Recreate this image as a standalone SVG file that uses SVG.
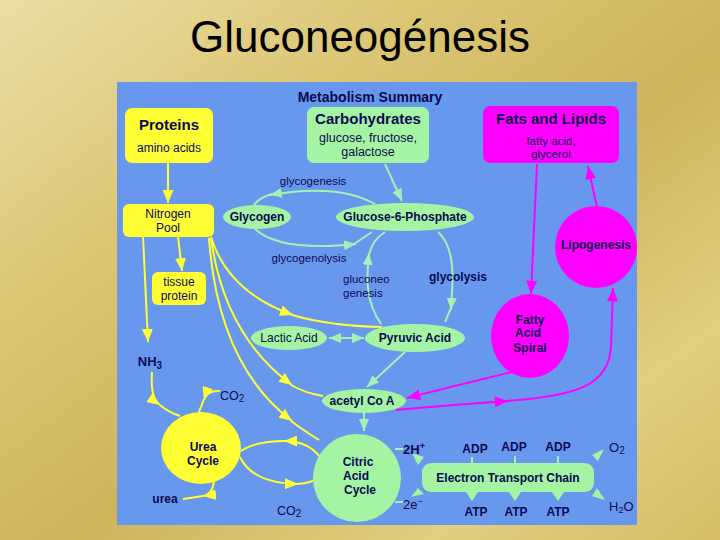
<svg xmlns="http://www.w3.org/2000/svg" width="720" height="540" viewBox="0 0 720 540">
<defs>
<linearGradient id="gold" x1="0" y1="0" x2="1" y2="1">
<stop offset="0" stop-color="#eadfa6"/>
<stop offset="0.3" stop-color="#dcc674"/>
<stop offset="0.55" stop-color="#cfb45c"/>
<stop offset="0.8" stop-color="#e2cf82"/>
<stop offset="1" stop-color="#d6bd66"/>
</linearGradient>
<marker id="ay" viewBox="0 0 12 10" refX="12" refY="5" markerWidth="13" markerHeight="11" markerUnits="userSpaceOnUse" orient="auto"><path d="M0,0 L12,5 L0,10 Z" fill="#ffff33"/></marker>
<marker id="ag" viewBox="0 0 12 10" refX="12" refY="5" markerWidth="12" markerHeight="10" markerUnits="userSpaceOnUse" orient="auto-start-reverse"><path d="M0,0 L12,5 L0,10 Z" fill="#a2f2b4"/></marker>
<marker id="am" viewBox="0 0 12 10" refX="12" refY="5" markerWidth="14" markerHeight="11" markerUnits="userSpaceOnUse" orient="auto"><path d="M0,0 L12,5 L0,10 Z" fill="#ff00ff"/></marker>
<style>
.t{font-family:"Liberation Sans",Arial,sans-serif;fill:#0a0a50;text-anchor:middle}
.b{font-weight:bold}
.n{font-size:12px}
.yl{fill:none;stroke:#ffff33;stroke-width:2}
.gl{fill:none;stroke:#a2f2b4;stroke-width:2}
.ml{fill:none;stroke:#ff00ff;stroke-width:2}
.yb{fill:#ffff33}
.gb{fill:#a4f4a4}
.mb{fill:#ff00ff}
</style>
</defs>
<rect x="0" y="0" width="720" height="540" fill="url(#gold)"/>
<text x="360" y="52" font-family="Liberation Sans,Arial,sans-serif" font-size="44" text-anchor="middle" fill="#000">Gluconeogénesis</text>
<rect x="117" y="82" width="520" height="443" fill="#6898ee"/>
<text class="t b" x="370" y="102" font-size="14">Metabolism Summary</text>

<g id="connectors">
<!-- yellow -->
<path class="yl" d="M168,163 L168,203" marker-end="url(#ay)"/>
<path class="yl" d="M178,236 L182,271" marker-end="url(#ay)"/>
<path class="yl" d="M143,236 L148,342" marker-end="url(#ay)"/>
<path class="yl" d="M152,372 Q150,398 160,405" marker-end="url(#ay)"/>
<path class="yl" d="M160,405 Q168,412 180,416"/>
<path class="yl" d="M220,391 Q207,390 204,400" marker-end="url(#ay)"/>
<path class="yl" d="M204,399 L199,412"/>
<path class="yl" d="M214,482 Q212,495 203,496" marker-end="url(#ay)"/>
<path class="yl" d="M203,496 L183,499"/>
<path class="yl" d="M320,457 Q308,441 284,441" marker-end="url(#ay)"/>
<path class="yl" d="M285,441 Q255,441 241,451"/>
<path class="yl" d="M240,457 Q252,483 298,484" marker-end="url(#ay)"/>
<path class="yl" d="M297,484 Q312,483 318,478"/>
<path class="yl" d="M211,237 Q228,292 293,315" marker-end="url(#ay)"/>
<path class="yl" d="M292,315 Q330,326 382,327"/>
<path class="yl" d="M211,238 Q224,335 292,385" marker-end="url(#ay)"/>
<path class="yl" d="M291,385 Q305,393 323,396"/>
<path class="yl" d="M209,238 Q218,365 292,421" marker-end="url(#ay)"/>
<path class="yl" d="M291,421 Q303,430 319,440"/>
<!-- green -->
<path class="gl" d="M385,164 L402,201" marker-end="url(#ag)"/>
<path class="gl" d="M375,204 Q338,183 270,195" marker-end="url(#ag)"/>
<path class="gl" d="M272,194 Q260,197 254,205"/>
<path class="gl" d="M255,229 Q280,252 356,244" marker-end="url(#ag)"/>
<path class="gl" d="M354,244 L372,232"/>
<path class="gl" d="M381,324 C366,302 366,280 369,253" marker-end="url(#ag)"/>
<path class="gl" d="M369,255 Q372,240 385,232"/>
<path class="gl" d="M438,232 C456,248 453,280 451,310" marker-end="url(#ag)"/>
<path class="gl" d="M451,308 L445,322"/>
<path class="gl" d="M329,338 L364,338" marker-start="url(#ag)" marker-end="url(#ag)"/>
<path class="gl" d="M405,352 L367,387" marker-end="url(#ag)"/>
<path class="gl" d="M364,413 L364,431" marker-end="url(#ag)"/>
<path class="gl" d="M395,449 L403,449"/>
<path class="gl" d="M395,502 L403,502"/>
<path class="gl" d="M472,457 L472,463"/>
<path class="gl" d="M515,456 L515,463"/>
<path class="gl" d="M558,456 L558,463"/>
<polygon class="gb" points="412,453 424,457 418,465"/>
<polygon class="gb" points="411,497 418,488 424,494"/>
<polygon class="gb" points="466,492 478,492 472,501"/>
<polygon class="gb" points="509,492 521,492 515,501"/>
<polygon class="gb" points="552,492 564,492 558,501"/>
<polygon class="gb" points="604,449 598,461 592,455"/>
<polygon class="gb" points="605,500 592,496 597,488"/>
<!-- magenta -->
<path class="ml" d="M537,164 L531,294" marker-end="url(#am)"/>
<path class="ml" d="M597,207 L588,166" marker-end="url(#am)"/>
<path class="ml" d="M512,372 Q462,384 407,398" marker-end="url(#am)"/>
<path class="ml" d="M396,410 Q450,405 508,401" marker-end="url(#am)"/>
<path class="ml" d="M506,401 C578,396 610,385 611,345 L613,288" marker-end="url(#am)"/>
</g>

<g id="proteins">
<rect class="yb" x="125" y="108" width="88" height="55" rx="7"/>
<text class="t b" x="169" y="130" font-size="15">Proteins</text>
<text class="t" x="169" y="152" font-size="12">amino acids</text>
</g>
<g id="carbohydrates">
<rect class="gb" x="307" y="107" width="122" height="56" rx="7"/>
<text class="t b" x="368" y="124" font-size="15">Carbohydrates</text>
<text class="t" x="368" y="142" font-size="12.5">glucose, fructose,</text>
<text class="t" x="368" y="156" font-size="12.5">galactose</text>
</g>
<g id="fats">
<rect class="mb" x="483" y="106" width="136" height="57" rx="7"/>
<text class="t b" x="551" y="124" font-size="15">Fats and Lipids</text>
<text class="t" x="551" y="145" font-size="11.5">fatty acid,</text>
<text class="t" x="551" y="158" font-size="11.5">glycerol</text>
</g>
<g id="nitrogen">
<rect class="yb" x="123" y="204" width="91" height="33" rx="6"/>
<text class="t" x="168" y="218" font-size="12">Nitrogen</text>
<text class="t" x="168" y="232" font-size="12">Pool</text>
</g>
<g id="tissue">
<rect class="yb" x="152" y="272" width="54" height="33" rx="6"/>
<text class="t" x="179" y="286" font-size="12">tissue</text>
<text class="t" x="179" y="300" font-size="12">protein</text>
</g>
<g id="nh3">
<text class="t b" x="150" y="366" font-size="13">NH<tspan font-size="10" dy="3">3</tspan></text>
</g>
<g id="glycogen">
<ellipse class="gb" cx="257" cy="217" rx="34" ry="12"/>
<text class="t b n" x="257" y="221">Glycogen</text>
</g>
<g id="g6p">
<ellipse class="gb" cx="405" cy="217" rx="69" ry="14"/>
<text class="t b n" x="405" y="221">Glucose-6-Phosphate</text>
</g>
<g id="labels">
<text class="t" x="313" y="185" font-size="11.5">glycogenesis</text>
<text class="t" x="309" y="262" font-size="11.5">glycogenolysis</text>
<text class="t" x="343" y="283" font-size="11.5" style="text-anchor:start">gluconeo</text>
<text class="t" x="343" y="297" font-size="11.5" style="text-anchor:start">genesis</text>
<text class="t b n" x="458" y="281">glycolysis</text>
</g>
<g id="lipogenesis">
<circle class="mb" cx="596" cy="247" r="41"/>
<text class="t b n" x="596" y="249">Lipogenesis</text>
</g>
<g id="fattyacid">
<ellipse class="mb" cx="530" cy="336" rx="39" ry="42"/>
<text class="t b n" x="530" y="324">Fatty</text>
<text class="t b n" x="528" y="337">Acid</text>
<text class="t b n" x="530" y="352">Spiral</text>
</g>
<g id="lactic">
<ellipse class="gb" cx="289" cy="338" rx="38" ry="12"/>
<text class="t n" x="289" y="342">Lactic Acid</text>
</g>
<g id="pyruvic">
<ellipse class="gb" cx="415" cy="338" rx="50" ry="14"/>
<text class="t b n" x="415" y="342">Pyruvic Acid</text>
</g>
<g id="acetyl">
<ellipse class="gb" cx="364" cy="401" rx="42" ry="12"/>
<text class="t b n" x="362" y="405">acetyl Co A</text>
</g>
<g id="co2a">
<text class="t" x="220" y="400" font-size="12.5" style="text-anchor:start">CO<tspan font-size="10" dy="2">2</tspan></text>
</g>
<g id="urea">
<ellipse class="yb" cx="201" cy="448" rx="40" ry="36"/>
<text class="t b n" x="203" y="451">Urea</text>
<text class="t b n" x="203" y="465">Cycle</text>
</g>
<g id="ureatext">
<text class="t b n" x="165" y="503">urea</text>
</g>
<g id="citric">
<circle class="gb" cx="357" cy="478" r="44"/>
<text class="t b n" x="358" y="466">Citric</text>
<text class="t b n" x="356" y="480">Acid</text>
<text class="t b n" x="360" y="494">Cycle</text>
</g>
<g id="co2b">
<text class="t" x="277" y="515" font-size="12.5" style="text-anchor:start">CO<tspan font-size="10" dy="2">2</tspan></text>
</g>
<g id="h2e">
<text class="t b" x="403" y="454" font-size="13" style="text-anchor:start">2H<tspan font-size="9" dy="-5">+</tspan></text>
<text class="t" x="403" y="509" font-size="13" style="text-anchor:start">2e<tspan font-size="9" dy="-5">−</tspan></text>
</g>
<g id="etc">
<rect class="gb" x="422" y="463" width="172" height="29" rx="9"/>
<text class="t b n" x="508" y="482">Electron Transport Chain</text>
</g>
<g id="adp">
<text class="t b n" x="475" y="453">ADP</text>
<text class="t b n" x="514" y="451">ADP</text>
<text class="t b n" x="558" y="451">ADP</text>
</g>
<g id="atp">
<text class="t b n" x="476" y="516">ATP</text>
<text class="t b n" x="516" y="516">ATP</text>
<text class="t b n" x="558" y="516">ATP</text>
</g>
<g id="o2h2o">
<text class="t" x="609" y="452" font-size="13" style="text-anchor:start">O<tspan font-size="10" dy="2">2</tspan></text>
<text class="t" x="609" y="511" font-size="13" style="text-anchor:start">H<tspan font-size="9" dy="2">2</tspan><tspan dy="-2">O</tspan></text>
</g>
</svg>
